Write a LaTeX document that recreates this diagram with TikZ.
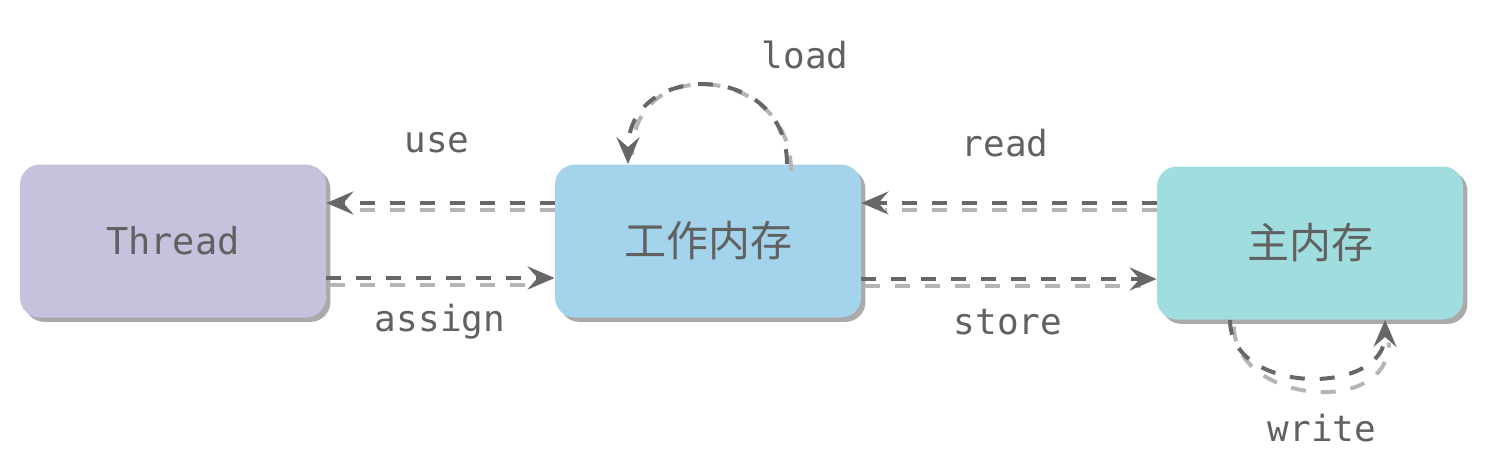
\documentclass[tikz,border=0pt]{standalone}
\usepackage{fontspec}
\setmonofont{DejaVu Sans Mono}
\newfontfamily\cjk{Noto Sans CJK SC}
\usetikzlibrary{arrows.meta}
\definecolor{txt}{HTML}{616161}
\definecolor{dk}{HTML}{676767}
\definecolor{lt}{HTML}{B4B4B4}
\definecolor{shd}{HTML}{AAAAAA}
\definecolor{cthread}{HTML}{C4C2DC}
\definecolor{cwork}{HTML}{A3D4EB}
\definecolor{cmain}{HTML}{A0DDDF}
\tikzset{
  membox/.style={rectangle, rounded corners=10pt, minimum width=153pt, minimum height=76.5pt,
    inner sep=0pt, text=txt,
    preaction={fill=shd, transform canvas={xshift=2.2pt,yshift=-2.2pt}}},
  lbl/.style={text=txt, font=\ttfamily\fontsize{18}{20}\selectfont, inner sep=0pt},
  flowdk/.style={draw=dk, line width=2pt, dash pattern=on 7.5pt off 7.5pt,
    -{Stealth[length=13.5pt,width=11.5pt,inset=5pt]}},
  flowlt/.style={draw=lt, line width=2pt, dash pattern=on 7.5pt off 7.5pt,
    transform canvas={xshift=2pt,yshift=-3.3pt}},
}
\begin{document}
\begin{tikzpicture}[x=0.5pt,y=-0.5pt]
\useasboundingbox (0,0) rectangle (1508,462);
\node[membox, fill=cthread, font=\ttfamily\fontsize{18.5}{20}\selectfont] (thr) at (173,241) {Thread};
\node[membox, fill=cwork, font=\cjk\fontsize{21}{24}\selectfont] (work) at (708,241) {工作内存};
\node[membox, fill=cmain, font=\cjk\fontsize{21}{24}\selectfont] (main) at (1310,243) {主内存};
% use
\draw[flowlt] ([yshift=19pt,xshift=-2pt]work.west) -- ([yshift=19pt,xshift=10pt]thr.east);
\draw[flowdk] ([yshift=19pt]work.west) -- ([yshift=19pt]thr.east);
% assign
\draw[flowlt] ([yshift=-18.5pt]thr.east) -- ([yshift=-18.5pt,xshift=-10pt]work.west);
\draw[flowdk] ([yshift=-18.5pt]thr.east) -- ([yshift=-18.5pt]work.west);
% read
\draw[flowlt] ([yshift=20pt,xshift=-2pt]main.west) -- ([yshift=19pt,xshift=10pt]work.east);
\draw[flowdk] ([yshift=20pt]main.west) -- ([yshift=19pt]work.east);
% store
\draw[flowlt] ([yshift=-19pt]work.east) -- ([yshift=-18pt,xshift=-10pt]main.west);
\draw[flowdk] ([yshift=-19pt]work.east) -- ([yshift=-18pt]main.west);
% load
\draw[flowlt] ([xshift=39.5pt]work.north) .. controls +(0,52pt) and +(0,52pt) .. ([xshift=-40pt,yshift=8pt]work.north);
\draw[flowdk] ([xshift=39.5pt]work.north) .. controls +(0,52pt) and +(0,52pt) .. ([xshift=-40pt]work.north);
% write
\draw[flowlt] ([xshift=-40pt]main.south) .. controls +(0,-38pt) and +(0,-38pt) .. ([xshift=37.5pt,yshift=-8pt]main.south);
\draw[flowdk] ([xshift=-40pt]main.south) .. controls +(0,-38pt) and +(0,-38pt) .. ([xshift=37.5pt]main.south);
% labels
\node[lbl] (luse) at (437,143) {use};
\node[lbl] (lassign) at (440,322) {assign};
\node[lbl] (lread) at (1005,143) {read};
\node[lbl] (lstore) at (1008,322) {store};
\node[lbl] (lload) at (805,55) {load};
\node[lbl] (lwrite) at (1322,428) {write};
\end{tikzpicture}
\end{document}
